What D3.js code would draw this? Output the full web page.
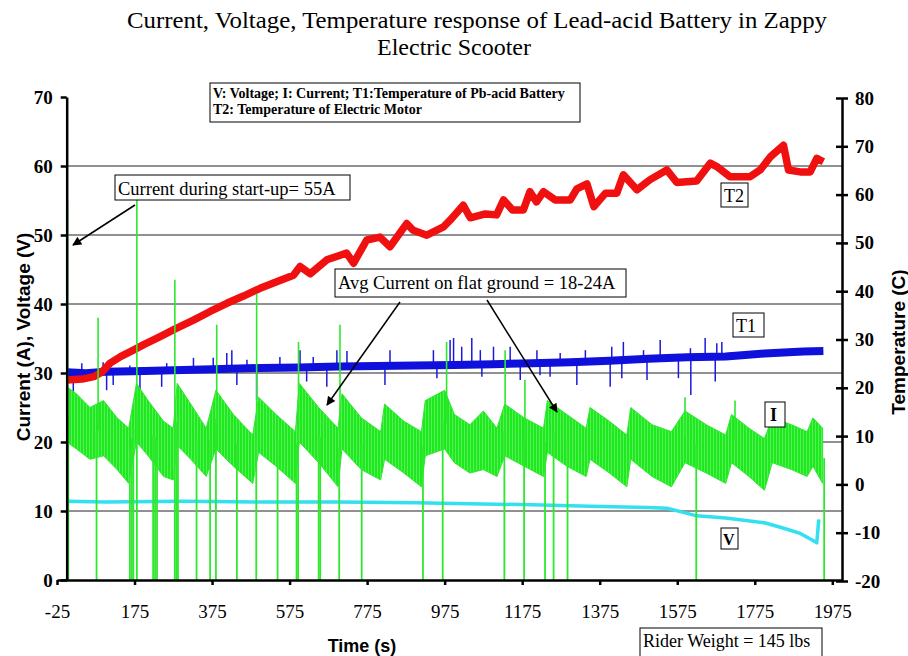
<!DOCTYPE html>
<html lang="en">
<head>
<meta charset="utf-8">
<title>Zappy scooter battery</title>
<script src="https://cdn.jsdelivr.net/npm/d3@7/dist/d3.min.js"></script>
<style>
  body { margin: 0; background: #fff; }
  .grid line { stroke: #222; stroke-width: 1px; }
  .axis path, .axis line { stroke: #000; stroke-width: 2.5px; }
  .axis text { font-family: "Liberation Serif", "Times New Roman", serif; fill: #000; }
  .note rect { fill: #fff; stroke: #000; stroke-width: 1px; }
  .note text { font-family: "Liberation Serif", "Times New Roman", serif; fill: #000; }
  .atitle { font-family: "Liberation Sans", Arial, sans-serif; font-weight: bold; fill: #000; }
</style>
</head>
<body>
<div id="chart"></div>
<script>
var width = 908, height = 656;

// x ticks (s)
var timeTicks = [-25, 175, 375, 575, 775, 975, 1175, 1375, 1575, 1775, 1975];
var leftTicks = [0, 10, 20, 30, 40, 50, 60, 70];
var rightTicks = [-20, -10, 0, 10, 20, 30, 40, 50, 60, 70, 80];

// T2: motor temperature (C)
var t2Times = [0, 40, 70, 90, 112, 140, 172, 200, 241, 280, 327, 370, 413, 456, 499, 540, 585, 602, 628, 671, 700, 722, 740, 774, 808, 834, 877, 894, 929, 972, 989, 1023, 1041, 1080, 1109, 1127, 1150, 1178, 1195, 1212, 1230, 1260, 1299, 1316, 1342, 1360, 1390, 1419, 1436, 1471, 1505, 1548, 1574, 1625, 1660, 1677, 1711, 1763, 1789, 1815, 1849, 1862, 1892, 1918, 1935, 1952];
var t2Values = [21.6, 21.8, 22.3, 23.2, 25.1, 26.5, 27.8, 29, 30.6, 32.2, 34, 35.8, 37.5, 39, 40.6, 41.9, 43.3, 45.1, 43.6, 46.5, 47.3, 47.9, 45.8, 50.6, 51.2, 49.2, 54, 52.6, 51.6, 53.3, 54.7, 57.8, 55.2, 56, 55.8, 58.9, 56.8, 56.8, 60.6, 58.5, 60.6, 58.9, 58.9, 61.2, 62.2, 57.5, 60.3, 60.3, 64.1, 61, 63.1, 65.1, 62.5, 62.8, 66.5, 65.8, 63.7, 63.7, 65.1, 67.8, 70.2, 65.1, 64.7, 64.7, 67.5, 66.8];

// T1: battery temperature (C)
var t1Times = [0, 50, 100, 200, 300, 400, 500, 600, 700, 800, 900, 1000, 1100, 1200, 1300, 1400, 1500, 1600, 1700, 1750, 1800, 1850, 1900, 1952];
var t1Values = [23.2, 23.0, 23.3, 23.5, 23.7, 23.9, 24.1, 24.2, 24.4, 24.5, 24.6, 24.7, 24.9, 25.1, 25.3, 25.6, 26.0, 26.3, 26.5, 26.8, 27.1, 27.3, 27.5, 27.6];
var t1SpikeTimes = [39, 94, 163, 258, 327, 378, 413, 426, 465, 550, 602, 636, 697, 723, 834, 946, 989, 998, 1019, 1045, 1067, 1101, 1144, 1213, 1273, 1338, 1406, 1436, 1488, 1531, 1609, 1647, 1677, 1690,
                    17, 103, 120, 189, 245, 439, 490, 619, 671, 821, 955, 1071, 1170, 1221, 1247, 1316, 1402, 1432, 1497, 1578, 1610, 1673];
var t1SpikeValues = [25.1, 25.3, 24.6, 25.1, 26.2, 26.2, 27.2, 27.8, 25.8, 26.4, 27.8, 26.4, 27.8, 27.6, 27.8, 27.8, 29.9, 30.3, 28.5, 30.3, 27.8, 28.5, 28.5, 27.8, 27.2, 27.8, 28.5, 29.5, 27.8, 29.9, 28.2, 30.3, 29.2, 29.5,
                     19.1, 19.5, 20.6, 19.1, 20.2, 20.6, 17.5, 21.3, 20.2, 20.6, 22, 22.3, 21.6, 22.6, 22.3, 20.6, 20.2, 22, 21.6, 22, 18.5, 21.3];

// I: current (A), noisy band read as upper / lower edge
var iTimes = [0, 25, 60, 95, 130, 160, 180, 210, 250, 275, 285, 320, 360, 385, 430, 480, 495, 540, 590, 600, 650, 700, 710, 760, 810, 820, 870, 915, 925, 975, 1000, 1040, 1075, 1110, 1130, 1180, 1230, 1240, 1290, 1340, 1350, 1400, 1445, 1455, 1510, 1560, 1595, 1650, 1700, 1715, 1760, 1800, 1820, 1870, 1910, 1925, 1950];
var iTop = [28, 27, 25, 26, 23.5, 22, 28.5, 26, 23, 22, 28.5, 25.5, 22, 27.5, 24, 21, 26.5, 24, 21.5, 28.5, 25, 22, 27, 23.5, 21.5, 25.5, 23, 21.5, 26, 27.5, 24, 22.5, 24.5, 22, 25.5, 23.5, 22, 26, 24, 22, 25, 23, 21, 25, 22.5, 21.5, 24.5, 22.5, 21, 24, 22, 20.5, 23.5, 22.5, 21.5, 23.5, 22];
var iBottom = [20, 19, 17.5, 18, 16, 14, 20, 18, 15, 14.5, 19.5, 17.5, 15, 19, 16.5, 14, 18.5, 16.5, 14, 20, 17, 13.5, 19, 16, 14.5, 17.5, 15.5, 13.5, 18, 19, 17, 15.5, 16, 15, 18, 16.5, 15, 18.5, 16.5, 15, 17.5, 15.5, 13.5, 17.5, 15, 13.5, 17, 15.5, 14, 17, 15, 13, 17, 16, 15, 16.5, 14];
var iUpTimes = [2, 81, 181, 279, 387, 490, 598, 705, 980, 1131, 1182, 1595, 1724];
var iUpValues = [55, 38, 58, 43.5, 37, 41.5, 34.5, 37, 34.5, 33.3, 29, 26.5, 26];
var iDropTimes = [4, 77, 163, 168, 172, 181, 223, 228, 233, 279, 283, 287, 335, 370, 385, 439, 489, 544, 593, 597, 650, 654, 703, 761, 919, 970, 1129, 1180, 1234, 1256, 1292, 1624, 1954];

// V: voltage (V)
var vTimes = [0, 100, 300, 500, 700, 900, 1000, 1200, 1350, 1500, 1548, 1591, 1625, 1700, 1800, 1850, 1890, 1923, 1935, 1940];
var vValues = [11.4, 11.3, 11.4, 11.3, 11.3, 11.2, 11.1, 10.9, 10.7, 10.5, 10.4, 9.8, 9.3, 9.0, 8.3, 7.5, 6.8, 5.8, 5.4, 8.8];

var svg = d3.select("#chart")
  .append("svg")
  .attr("width", width)
  .attr("height", height);

var defs = svg.append("defs");
defs.append("marker")
  .attr("id", "head")
  .attr("viewBox", "0 0 10 10")
  .attr("refX", 9).attr("refY", 5)
  .attr("markerWidth", 10).attr("markerHeight", 9)
  .attr("markerUnits", "userSpaceOnUse")
  .attr("orient", "auto")
  .append("path").attr("d", "M0,0L10,5L0,10z").attr("fill", "#000");

// fine vertical hatching so the current band reads like dense samples
var hatch = defs.append("pattern")
  .attr("id", "noise")
  .attr("patternUnits", "userSpaceOnUse")
  .attr("width", 3).attr("height", 8);
hatch.append("rect").attr("width", 3).attr("height", 8).attr("fill", "#55f055");
hatch.append("rect").attr("width", 2).attr("height", 8).attr("fill", "#1ee81e");

var x = d3.scaleLinear().domain([-25, 2000]).range([57, 842]);
var yL = d3.scaleLinear().domain([0, 70]).range([580, 97]);
var yR = d3.scaleLinear().domain([-20, 80]).range([581, 98]);

// title
var title = svg.append("g").attr("font-family", "Liberation Serif, Times New Roman, serif")
  .attr("font-size", 24).attr("text-anchor", "middle");
title.append("text").attr("x", 477).attr("y", 28)
  .attr("textLength", 700).attr("lengthAdjust", "spacingAndGlyphs")
  .text("Current, Voltage, Temperature response of Lead-acid Battery in Zappy");
title.append("text").attr("x", 454).attr("y", 55).text("Electric Scooter");

// grid
svg.append("g").attr("class", "grid")
  .selectAll("line")
  .data([10, 20, 30, 40, 50, 60])
  .enter().append("line")
  .attr("x1", x(0)).attr("x2", x(2000))
  .attr("y1", function (d) { return yL(d); })
  .attr("y2", function (d) { return yL(d); });

// series
var line = d3.line();

// T1 band
var t1At = d3.scaleLinear().domain(t1Times).range(t1Values);
svg.append("g").selectAll("line")
  .data(t1SpikeTimes)
  .enter().append("line")
  .attr("x1", function (d) { return x(d); })
  .attr("x2", function (d) { return x(d); })
  .attr("y1", function (d) { return yR(t1At(d)); })
  .attr("y2", function (d, i) { return yR(t1SpikeValues[i]); })
  .attr("stroke", "#1a1adc").attr("stroke-width", 1.5);

svg.append("path")
  .attr("d", line(t1Times.map(function (t, i) { return [x(t), yR(t1Values[i])]; })))
  .attr("fill", "none").attr("stroke", "#1010dd").attr("stroke-width", 8)
  .attr("stroke-linejoin", "round");

// T2
svg.append("path")
  .attr("d", line(t2Times.map(function (t, i) { return [x(t), yR(t2Values[i])]; })))
  .attr("fill", "none").attr("stroke", "#f01010").attr("stroke-width", 7.5)
  .attr("stroke-linejoin", "round");

// V
svg.append("path")
  .attr("d", line(vTimes.map(function (t, i) { return [x(t), yL(vValues[i])]; })))
  .attr("fill", "none").attr("stroke", "#33e0f0").attr("stroke-width", 3.5)
  .attr("stroke-linejoin", "round");

// I band
var iMid = d3.scaleLinear().domain(iTimes).range(iTimes.map(function (t, i) { return (iTop[i] + iBottom[i]) / 2; }));
var iArea = d3.area()
  .x(function (d) { return x(d); })
  .y0(function (d, i) { return yL(iBottom[i]); })
  .y1(function (d, i) { return yL(iTop[i]); });
svg.append("path")
  .attr("d", iArea(iTimes))
  .attr("fill", "url(#noise)").attr("stroke", "#2ee82e").attr("stroke-width", 1);

svg.append("g").selectAll("line")
  .data(iUpTimes)
  .enter().append("line")
  .attr("x1", function (d) { return x(d); })
  .attr("x2", function (d) { return x(d); })
  .attr("y1", function (d) { return yL(iMid(d)); })
  .attr("y2", function (d, i) { return yL(iUpValues[i]); })
  .attr("stroke", "#2ee82e").attr("stroke-width", 1.6);

svg.append("g").selectAll("line")
  .data(iDropTimes)
  .enter().append("line")
  .attr("x1", function (d) { return x(d); })
  .attr("x2", function (d) { return x(d); })
  .attr("y1", function (d) { return yL(iMid(d)); })
  .attr("y2", yL(0))
  .attr("stroke", "#2ee82e").attr("stroke-width", 1.8);

// axes
var plain = function (d) { return String(d); };

var axL = svg.append("g").attr("class", "axis")
  .attr("transform", "translate(" + x(0) + ",0)")
  .call(d3.axisLeft(yL).tickValues(leftTicks).tickFormat(plain).tickSize(6).tickSizeOuter(0).tickPadding(8));
axL.selectAll("text").attr("font-size", 19).attr("font-weight", "bold");

var axR = svg.append("g").attr("class", "axis")
  .attr("transform", "translate(842,0)")
  .call(d3.axisRight(yR).tickValues(rightTicks).tickFormat(plain).tickSize(6).tickSizeOuter(0).tickPadding(7));
axR.selectAll(".tick line").attr("x1", -6);
axR.selectAll("text").attr("font-size", 19).attr("font-weight", "bold");

var axB = svg.append("g").attr("class", "axis")
  .attr("transform", "translate(0,580)")
  .call(d3.axisBottom(x).tickValues(timeTicks).tickFormat(plain).tickSize(5).tickSizeOuter(0).tickPadding(20));
axB.selectAll("text").attr("font-size", 19);

// axis titles
svg.append("text").attr("class", "atitle")
  .attr("transform", "translate(30,337) rotate(-90)")
  .attr("text-anchor", "middle").attr("font-size", 19)
  .text("Current (A), Voltage (V)");
svg.append("text").attr("class", "atitle")
  .attr("transform", "translate(905,342) rotate(-90)")
  .attr("text-anchor", "middle").attr("font-size", 19)
  .text("Temperature (C)");
svg.append("text").attr("class", "atitle")
  .attr("x", 362).attr("y", 652)
  .attr("text-anchor", "middle").attr("font-size", 18)
  .text("Time (s)");

// boxed notes
function note(x0, y0, w, h, lines, size, weight) {
  var g = svg.append("g").attr("class", "note");
  g.append("rect").attr("x", x0).attr("y", y0).attr("width", w).attr("height", h);
  lines.forEach(function (s, i) {
    g.append("text").attr("x", x0 + 3).attr("y", y0 + size + 1 + i * (size + 2))
      .attr("font-size", size).attr("font-weight", weight || "normal").text(s);
  });
  return g;
}

note(210, 83, 370, 39, ["V: Voltage; I: Current; T1:Temperature of Pb-acid Battery",
  "T2: Temperature of Electric Motor"], 14, "bold");
note(115, 175, 235, 25, ["Current during start-up= 55A"], 18.5);
note(335, 269, 291, 28, ["Avg Current on flat ground = 18-24A"], 18.5);
note(721, 183, 27, 24, ["T2"], 18);
note(733, 313, 31, 24, ["T1"], 18);
note(765, 402, 20, 25, ["I"], 18).select("text").attr("font-weight", "bold").attr("x", 770);
note(721, 528, 17, 21, ["V"], 16).select("text").attr("font-weight", "bold").attr("x", 723);
note(640, 628, 182, 30, ["Rider Weight = 145 lbs"], 18);

// arrows
var arrows = [[135, 205, 73, 245], [400, 302, 327, 405], [487, 300, 557, 412]];
svg.append("g").selectAll("line")
  .data(arrows)
  .enter().append("line")
  .attr("x1", function (d) { return d[0]; })
  .attr("y1", function (d) { return d[1]; })
  .attr("x2", function (d) { return d[2]; })
  .attr("y2", function (d) { return d[3]; })
  .attr("stroke", "#000").attr("stroke-width", 1.5)
  .attr("marker-end", "url(#head)");
</script>
</body>
</html>
